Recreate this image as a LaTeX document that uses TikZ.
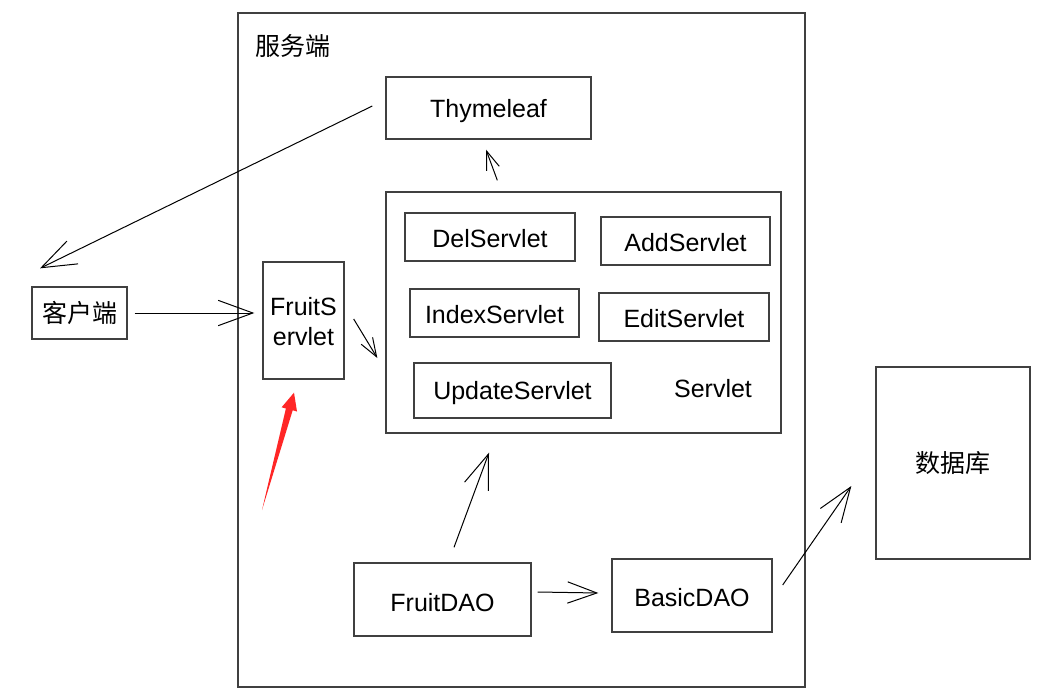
\documentclass[tikz,border=0pt]{standalone}
\usepackage{fontspec}
\setmainfont{Liberation Sans}
\newfontfamily\cjk{Noto Sans CJK SC}
\usetikzlibrary{arrows.meta,fit,calc}
\begin{document}
\begin{tikzpicture}[x=0.75pt,y=-0.75pt,
  box/.style={draw=black!75,line width=1pt,inner sep=0pt},
  lbl/.style={inner sep=0pt,font=\fontsize{18.75}{22.5}\selectfont,align=center},
  arr/.style={line width=0.75pt,-{Straight Barb[length=26pt,width=19pt,line width=0.75pt]}},
  arrmid/.style={line width=0.75pt,-{Straight Barb[length=22pt,width=16pt,line width=0.75pt]}},
  arrsmall/.style={line width=0.75pt,-{Straight Barb[length=14pt,width=10pt,line width=0.75pt]}}]
\useasboundingbox (0,0) rectangle (1049,692);
% boxes
\node[box,fit={(238,13) (805,687)}] (server) {};
\node[lbl] (serverlbl) at (293,46) {\cjk 服务端};
\node[box,fit={(386,77) (591,139)}] (thy) {};
\node[box,fit={(386,192) (781,433)}] (sv) {};
\node[box,fit={(405,213) (575,261)}] (del) {};
\node[box,fit={(601,217) (770,265)}] (add) {};
\node[box,fit={(410,289) (579,337)}] (index) {};
\node[box,fit={(599,293) (769,341)}] (edit) {};
\node[box,fit={(414,363) (611,418)}] (update) {};
\node[box,fit={(263,262) (344,379)}] (fs) {};
\node[box,fit={(32,287) (127,339)}] (client) {};
\node[box,fit={(876,367) (1030,559)}] (db) {};
\node[box,fit={(354,563) (531,636)}] (fdao) {};
\node[box,fit={(612,559) (772,632)}] (bdao) {};
% texts
\node[lbl] (thyt) at ($(thy.center)+(0,3)$) {Thymeleaf};
\node[lbl] (delt) at ($(del.center)+(0,2)$) {DelServlet};
\node[lbl] (addt) at ($(add.center)+(0,2)$) {AddServlet};
\node[lbl] (indext) at ($(index.center)+(0,2)$) {IndexServlet};
\node[lbl] (editt) at ($(edit.center)+(0,2)$) {EditServlet};
\node[lbl] (updatet) at ($(update.center)+(0,3)$) {UpdateServlet};
\node[lbl] (svlbl) at (713,389) {Servlet};
\node[lbl] (fst) at ($(fs.center)+(0,1.5)$) {FruitS\\ervlet};
\node[lbl] (clientt) at (client.center) {\cjk 客户端};
\node[lbl] (dbt) at (db.center) {\cjk 数据库};
\node[lbl] (fdaot) at ($(fdao.center)+(0,3)$) {FruitDAO};
\node[lbl] (bdaot) at ($(bdao.center)+(0,2)$) {BasicDAO};
% connectors
\draw[arr] ($(thy.west)+(-13,-2)$) -- ($(client.north)+(-39.5,-18)$);
\draw[arr] ($(client.east)+(7,0)$) -- ($(fs.west)+(-8,-7.5)$);
\draw[arrsmall] ($(fs.east)+(9,-1.5)$) -- ($(sv.west)+(-8,45.5)$);
\draw[arrsmall] ($(sv.north west)+(112,-11)$) -- ($(thy.south)+(-2.5,10)$);
\draw[arr] ($(fdao.north)+(11.5,-15)$) -- ($(sv.south)+(-94.5,19)$);
\draw[arrmid] ($(fdao.east)+(6,-7.5)$) -- ($(bdao.west)+(-13,-2.5)$);
\draw[arr] ($(bdao.east)+(10,-10.5)$) -- ($(db.west)+(-24,23)$);
% red arrow
\coordinate (redtip) at ($(fs.south)+(-9.5,13)$);
\fill[fill=red!85!white] (262,510) -- (285.9,408.5) -- (281.6,407.3) -- (redtip) -- (297,411.5) -- (292.7,410.3) -- cycle;
\end{tikzpicture}
\end{document}
